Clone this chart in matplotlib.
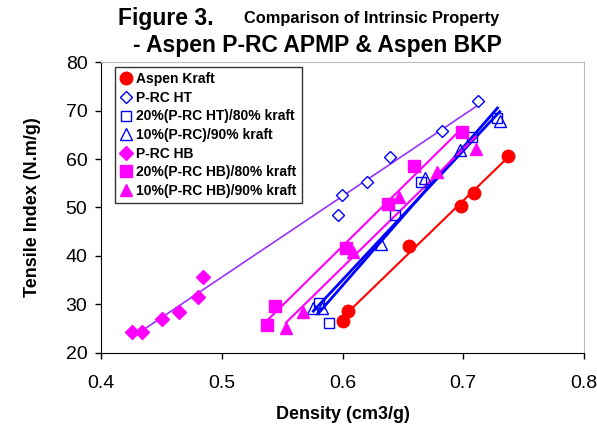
import numpy as np
import matplotlib
matplotlib.use('Agg')
import matplotlib.pyplot as plt

plt.rcParams['font.family'] = ['Liberation Sans', 'DejaVu Sans']

# density (cm3/g) and tensile index (N.m/g)
kraft_x = [0.6005, 0.6046, 0.655, 0.698, 0.709, 0.7367]
kraft_y = [26.6, 28.6, 42.0, 50.4, 52.9, 60.6]

ht_x = [0.5958, 0.5997, 0.620, 0.6395, 0.682, 0.7124]
ht_y = [48.5, 52.6, 55.3, 60.5, 65.8, 72.0]

ht20_x = [0.5806, 0.589, 0.6433, 0.6654, 0.7074, 0.7284]
ht20_y = [30.3, 26.1, 48.5, 55.2, 64.5, 68.4]

ht10_x = [0.5757, 0.5831, 0.6317, 0.668, 0.697, 0.7303]
ht10_y = [29.2, 29.2, 42.5, 56.0, 61.8, 67.9]

hb_x = [0.4252, 0.434, 0.4506, 0.4646, 0.4799, 0.4845]
hb_y = [24.3, 24.3, 26.9, 28.4, 31.6, 35.7]

hb20_x = [0.5375, 0.5439, 0.6025, 0.6378, 0.6593, 0.6986]
hb20_y = [25.7, 29.6, 41.6, 50.7, 58.6, 65.5]

hb10_x = [0.553, 0.5674, 0.6088, 0.6469, 0.6779, 0.7105]
hb10_y = [25.2, 28.5, 40.9, 52.2, 57.4, 62.0]

red = '#FF0000'
blue = '#0000FF'
mag = '#FF00FF'
purple = '#9933FF'

fig = plt.figure(figsize=(5.97, 4.29), dpi=100)
ax = fig.add_axes([0.1697, 0.1779, 0.8083, 0.6769])

def trend(x, y, color, lw):
    # linear trendline across the data range (like the Excel one)
    x = np.array(x); y = np.array(y)
    k, b = np.polyfit(x, y, 1)
    xs = np.array([x.min(), x.max()])
    ax.plot(xs, k * xs + b, color=color, lw=lw, zorder=2)

trend(kraft_x, kraft_y, red, 1.5)
trend(hb_x + ht_x, hb_y + ht_y, purple, 1.2)
trend(ht20_x, ht20_y, blue, 2.0)
trend(ht10_x, ht10_y, blue, 2.0)
trend(hb20_x, hb20_y, mag, 1.5)
trend(hb10_x, hb10_y, mag, 1.5)

ax.plot(kraft_x, kraft_y, 'o', ms=9, color=red, ls='none', label='Aspen Kraft', zorder=3)
ax.plot(ht_x, ht_y, 'D', ms=6.5, mfc='white', mec=blue, mew=1, ls='none', label='P-RC HT', zorder=3)
ax.plot(ht20_x, ht20_y, 's', ms=7.5, mfc='none', mec=blue, mew=1, ls='none', label='20%(P-RC HT)/80% kraft', zorder=3)
ax.plot(ht10_x, ht10_y, '^', ms=8.5, mfc='none', mec=blue, mew=1, ls='none', label='10%(P-RC)/90% kraft', zorder=3)
ax.plot(hb_x, hb_y, 'D', ms=7, color=mag, ls='none', label='P-RC HB', zorder=3)
ax.plot(hb20_x, hb20_y, 's', ms=8, color=mag, ls='none', label='20%(P-RC HB)/80% kraft', zorder=3)
ax.plot(hb10_x, hb10_y, '^', ms=9, color=mag, ls='none', label='10%(P-RC HB)/90% kraft', zorder=3)

ax.set_xlim(0.4, 0.8)
ax.set_ylim(20, 80)
ax.set_xticks([0.4, 0.5, 0.6, 0.7, 0.8])
ax.set_xticklabels(['0.4', '0.5', '0.6', '0.7', '0.8'])
ax.set_yticks([20, 30, 40, 50, 60, 70, 80])
ax.tick_params(axis='both', labelsize=14, direction='out', length=4, width=1)
ax.tick_params(axis='x', pad=12)
ax.tick_params(axis='y', pad=6)

for s in ['top', 'right']:
    ax.spines[s].set_color('#BBBBBB')
for s in ['left', 'bottom']:
    ax.spines[s].set_color('black')

ax.set_xlabel('Density (cm3/g)', fontsize=13, fontweight='bold', labelpad=10)
ax.set_ylabel('Tensile Index (N.m/g)', fontsize=13, fontweight='bold', labelpad=18)

fig.text(0.198, 0.958, 'Figure 3.', fontsize=16.5, fontweight='bold', ha='left', va='center')
fig.text(0.408, 0.958, 'Comparison of Intrinsic Property', fontsize=11.8, fontweight='bold', ha='left', va='center')
fig.text(0.532, 0.895, '- Aspen P-RC APMP & Aspen BKP', fontsize=16.5, fontweight='bold', ha='center', va='center')

leg = ax.legend(loc='upper left', bbox_to_anchor=(0.028, 0.985),
                prop={'weight': 'bold', 'size': 10}, frameon=True, fancybox=False,
                edgecolor='black', handlelength=0.8, handletextpad=0.3,
                labelspacing=0.33, borderpad=0.4, borderaxespad=0)
leg.get_frame().set_linewidth(1)

fig.savefig('out.png', dpi=100)
